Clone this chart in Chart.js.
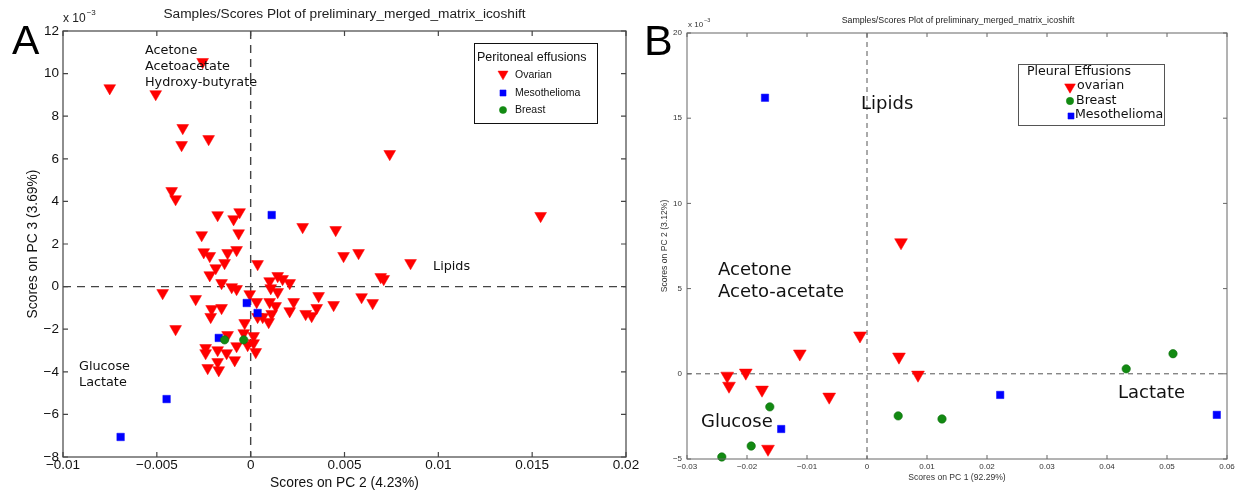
<!DOCTYPE html>
<html><head><meta charset="utf-8">
<script src="https://cdn.jsdelivr.net/npm/chart.js@4"></script>
<style>
html,body{margin:0;padding:0;background:#fff;}
#wrap{position:relative;width:1242px;height:494px;overflow:hidden;background:#fff;}
canvas{position:absolute;top:0;}
</style></head><body>
<div id="wrap">
<canvas id="cA" width="660" height="494" style="left:0"></canvas>
<canvas id="cB" width="602" height="494" style="left:640px"></canvas>
</div>
<script>
// ---------- Panel A: peritoneal effusions (x = PC2 score, y = PC3 score x10^-3) ----------
const ovarianA_x = [-0.00751,-0.00506,-0.00256,-0.00362,-0.00224,-0.00368,-0.00421,-0.00400,0.00741,0.01545,
  -0.00176,-0.00091,-0.00059,0.00277,0.00453,-0.00261,-0.00064,-0.00250,-0.00218,-0.00123,
  -0.00075,-0.00186,-0.00139,-0.00218,-0.00155,0.00037,-0.00101,-0.00075,-0.00005,0.00101,
  0.00144,0.00170,0.00208,0.00107,0.00144,0.00495,0.00575,-0.00469,-0.00293,0.00362,
  -0.00208,-0.00155,-0.00213,0.00032,0.00101,0.00133,0.00208,0.00229,0.00352,0.00442,
  0.00293,0.00325,0.00591,0.00650,0.00037,0.00064,0.00096,0.00112,-0.00032,-0.00037,
  -0.00123,0.00016,-0.00240,-0.00240,-0.00176,-0.00128,-0.00075,-0.00016,0.00016,0.00027,
  -0.00085,-0.00229,-0.00176,-0.00170,0.00693,0.00852,0.00709,-0.00400];
const ovarianA_y = [9.32,9.04,10.55,7.45,6.93,6.65,4.49,4.11,6.23,3.32,
  3.36,3.17,3.50,2.80,2.66,2.42,2.51,1.62,1.44,1.58,
  1.72,0.87,1.11,0.54,0.17,1.06,-0.02,-0.11,-0.35,0.26,
  0.50,0.36,0.17,-0.07,-0.25,1.44,1.58,-0.30,-0.58,-0.44,
  -1.05,-1.00,-1.42,-0.72,-0.72,-0.91,-1.15,-0.72,-1.00,-0.86,
  -1.28,-1.38,-0.49,-0.77,-1.42,-1.42,-1.66,-1.28,-1.71,-2.18,
  -2.27,-2.32,-2.88,-3.12,-2.98,-3.12,-2.79,-2.74,-2.65,-3.07,
  -3.45,-3.82,-3.54,-3.92,0.45,1.11,0.36,-1.99];
const mesoA_x = [0.00112,-0.00021,0.00037,-0.00170,-0.00448,-0.00693];
const mesoA_y = [3.36,-0.77,-1.24,-2.41,-5.28,-7.06];
const breastA_x = [-0.00139,-0.00037];
const breastA_y = [-2.50,-2.50];
const ticksA_x = [-0.01,-0.005,0,0.005,0.01,0.015,0.02];
const ticksA_y = [-8,-6,-4,-2,0,2,4,6,8,10,12];

// ---------- Panel B: pleural effusions (x = PC1 score, y = PC2 score x10^-3) ----------
const ovarianB_x = [0.00567,-0.00117,0.00533,0.00850,-0.01120,-0.02020,-0.02330,-0.02300,-0.01750,-0.00630,-0.01650];
const ovarianB_y = [7.71,2.24,1.00,-0.06,1.18,0.06,-0.12,-0.71,-0.94,-1.35,-4.41];
const breastB_x = [-0.01620,0.00520,0.01250,-0.01930,-0.02420,0.04320,0.05100];
const breastB_y = [-1.94,-2.47,-2.65,-4.24,-4.88,0.29,1.18];
const mesoB_x = [-0.01430,0.02220,0.05830,-0.01700];
const mesoB_y = [-3.24,-1.24,-2.41,16.2];
const ticksB_x = [-0.03,-0.02,-0.01,0,0.01,0.02,0.03,0.04,0.05,0.06];
const ticksB_y = [-5,0,5,10,15,20];

const RED = '#ff0000', BLUE = '#0000ff', GREEN = '#128a12';
const SANS = "'Liberation Sans', Arial, Helvetica, sans-serif";
const DJV = "'DejaVu Sans', Verdana, sans-serif";

function pts(xs, ys) { return xs.map((v, i) => ({x: v, y: ys[i]})); }
function fmt(v) { const r = Math.round(v * 1e6) / 1e6; return (r < 0 ? '\u2212' : '') + String(Math.abs(r)); }

function marker(ctx, style, x, y, r, color) {
  ctx.save(); ctx.fillStyle = color; ctx.strokeStyle = color; ctx.lineWidth = 0.5;
  ctx.beginPath();
  if (style === 'tri') {
    ctx.moveTo(x, y + r); ctx.lineTo(x - r * 0.866, y - r / 2); ctx.lineTo(x + r * 0.866, y - r / 2); ctx.closePath();
  } else if (style === 'rect') {
    const s = r * Math.SQRT1_2; ctx.rect(x - s, y - s, 2 * s, 2 * s);
  } else { ctx.arc(x, y, r, 0, Math.PI * 2); }
  ctx.fill(); ctx.stroke(); ctx.restore();
}
function txt(ctx, s, x, y, font, color, align) {
  ctx.save(); ctx.font = font; ctx.fillStyle = color; ctx.textAlign = align || 'left'; ctx.textBaseline = 'middle';
  ctx.fillText(s, x, y); ctx.restore();
}
function zeroLines(chart, dash, color, lw) {
  const {ctx, chartArea: a, scales: {x, y}} = chart;
  const px = x.getPixelForValue(0), py = y.getPixelForValue(0);
  ctx.save(); ctx.setLineDash(dash); ctx.strokeStyle = color; ctx.lineWidth = lw;
  ctx.beginPath(); ctx.moveTo(px, a.top); ctx.lineTo(px, a.bottom); ctx.stroke();
  ctx.beginPath(); ctx.moveTo(a.left, py); ctx.lineTo(a.right, py); ctx.stroke();
  ctx.restore();
}
function frame(chart, tl, color, lw) {
  const {ctx, chartArea: a, scales: {x, y}} = chart;
  ctx.save(); ctx.strokeStyle = color; ctx.lineWidth = lw;
  ctx.strokeRect(a.left, a.top, a.right - a.left, a.bottom - a.top);
  ctx.beginPath();
  x.ticks.forEach(t => { const p = x.getPixelForValue(t.value);
    ctx.moveTo(p, a.bottom); ctx.lineTo(p, a.bottom - tl); ctx.moveTo(p, a.top); ctx.lineTo(p, a.top + tl); });
  y.ticks.forEach(t => { const p = y.getPixelForValue(t.value);
    ctx.moveTo(a.left, p); ctx.lineTo(a.left + tl, p); ctx.moveTo(a.right, p); ctx.lineTo(a.right - tl, p); });
  ctx.stroke(); ctx.restore();
}
function superLabel(ctx, x, y, size, supSize, color) {
  ctx.save(); ctx.font = size + 'px ' + SANS; ctx.fillStyle = color; ctx.textBaseline = 'middle';
  ctx.fillText('x 10', x, y); const w = ctx.measureText('x 10').width;
  ctx.font = supSize + 'px ' + SANS; ctx.fillText('\u22123', x + w + 1, y - size * 0.55); ctx.restore();
}
function ticksFrom(arr) { return s => { s.ticks = arr.map(v => ({value: v})); }; }

function makeScales(o) {
  return {
    x: {type: 'linear', min: o.xt[0], max: o.xt[o.xt.length - 1],
      afterBuildTicks: ticksFrom(o.xt),
      ticks: {autoSkip: false, maxRotation: 0, minRotation: 0, padding: o.xpad, color: o.tc,
        font: {family: SANS, size: o.tf}, callback: v => fmt(v)},
      grid: {display: false, drawTicks: false}, border: {display: false},
      title: {display: true, text: o.xtitle, color: o.tc, font: {family: SANS, size: o.af}, padding: {top: 0, bottom: o.xtp}},
      afterFit: s => { s.height = o.xh; s.paddingLeft = 0; s.paddingRight = 0; }},
    y: {type: 'linear', min: o.yt[0], max: o.yt[o.yt.length - 1],
      afterBuildTicks: ticksFrom(o.yt),
      ticks: {autoSkip: false, padding: o.ypad, color: o.tc, font: {family: SANS, size: o.tf}, callback: v => fmt(v)},
      grid: {display: false, drawTicks: false}, border: {display: false},
      title: {display: true, text: o.ytitle, color: o.tc, font: {family: SANS, size: o.af}, padding: {top: o.ytp, bottom: 0}},
      afterFit: s => { s.width = o.yw; s.paddingTop = 0; s.paddingBottom = 0; }}
  };
}

// ---------------- Chart A ----------------
const plugA = {
  id: 'decoA',
  beforeDatasetsDraw(chart) { zeroLines(chart, [8, 6], '#444', 1.4); },
  afterDraw(chart) {
    const ctx = chart.ctx;
    frame(chart, 5, '#444', 1.2);
    txt(ctx, 'Samples/Scores Plot of preliminary_merged_matrix_icoshift', 344.5, 14.5, '13.7px ' + SANS, '#222', 'center');
    superLabel(ctx, 63, 19, 12, 8, '#222');
    ctx.save(); ctx.font = '41px ' + SANS; ctx.fillStyle = '#000'; ctx.textBaseline = 'alphabetic'; ctx.fillText('A', 12, 54); ctx.restore();
    const f = '12.8px ' + DJV;
    txt(ctx, 'Acetone', 145, 51, f, '#111');
    txt(ctx, 'Acetoacetate', 145, 67, f, '#111');
    txt(ctx, 'Hydroxy-butyrate', 145, 83, f, '#111');
    txt(ctx, 'Lipids', 433, 267, f, '#111');
    txt(ctx, 'Glucose', 79, 367, f, '#111');
    txt(ctx, 'Lactate', 79, 383, f, '#111');
    // legend
    ctx.save(); ctx.fillStyle = '#fff'; ctx.fillRect(474, 43, 123, 80);
    ctx.strokeStyle = '#111'; ctx.lineWidth = 1; ctx.strokeRect(474.5, 43.5, 123, 80); ctx.restore();
    txt(ctx, 'Peritoneal effusions', 477, 58, '12.5px ' + SANS, '#111');
    marker(ctx, 'tri', 503, 74, 5.8, RED);
    marker(ctx, 'rect', 503, 93, 4.3, BLUE);
    marker(ctx, 'circle', 503, 110, 3.6, GREEN);
    const lf = '10.5px ' + SANS;
    txt(ctx, 'Ovarian', 515, 75, lf, '#111');
    txt(ctx, 'Mesothelioma', 515, 93, lf, '#111');
    txt(ctx, 'Breast', 515, 110, lf, '#111');
  }
};
new Chart(document.getElementById('cA'), {
  type: 'scatter',
  data: {datasets: [
    {label: 'Breast', data: pts(breastA_x, breastA_y), pointStyle: 'circle', pointRadius: 4.2, backgroundColor: GREEN, borderColor: '#0d6e0d', borderWidth: 0.6, clip: false},
    {label: 'Mesothelioma', data: pts(mesoA_x, mesoA_y), pointStyle: 'rect', pointRadius: 5.3, backgroundColor: BLUE, borderColor: BLUE, borderWidth: 0.5, clip: false},
    {label: 'Ovarian', data: pts(ovarianA_x, ovarianA_y), pointStyle: 'triangle', rotation: 180, pointRadius: 6.8, backgroundColor: RED, borderColor: RED, borderWidth: 0.5, clip: false}
  ]},
  options: {
    responsive: false, animation: false, events: [],
    layout: {padding: {left: 0, top: 31, right: 34, bottom: 0}},
    plugins: {legend: {display: false}, tooltip: {enabled: false}, title: {display: false}},
    scales: makeScales({xt: ticksA_x, yt: ticksA_y, xpad: 0, ypad: 4, tc: '#111', tf: 13.5, af: 13.8,
      xtitle: 'Scores on PC 2 (4.23%)', ytitle: 'Scores on PC 3 (3.69%)', xtp: 3, ytp: 24.7, xh: 37, yw: 63})
  },
  plugins: [plugA]
});

// ---------------- Chart B ----------------
const plugB = {
  id: 'decoB',
  beforeDatasetsDraw(chart) { zeroLines(chart, [5, 4], '#555', 1); },
  afterDraw(chart) {
    const ctx = chart.ctx;
    frame(chart, 4, '#666', 1);
    txt(ctx, 'Samples/Scores Plot of preliminary_merged_matrix_icoshift', 318, 21, '8.8px ' + SANS, '#222', 'center');
    superLabel(ctx, 48, 25, 8, 5.5, '#333');
    ctx.save(); ctx.font = '43px ' + SANS; ctx.fillStyle = '#000'; ctx.textBaseline = 'alphabetic'; ctx.fillText('B', 4, 55); ctx.restore();
    const f = '18px ' + DJV;
    txt(ctx, 'Lipids', 221, 104, f, '#111');
    txt(ctx, 'Acetone', 78, 270, f, '#111');
    txt(ctx, 'Aceto-acetate', 78, 292, f, '#111');
    txt(ctx, 'Glucose', 61, 422, f, '#111');
    txt(ctx, 'Lactate', 478, 393, f, '#111');
    // legend
    ctx.save(); ctx.fillStyle = '#fff'; ctx.fillRect(378, 64, 146, 61);
    ctx.strokeStyle = '#555'; ctx.lineWidth = 1; ctx.strokeRect(378.5, 64.5, 146, 61); ctx.restore();
    const lf = '12.6px ' + DJV;
    txt(ctx, 'Pleural Effusions', 387, 72, lf, '#111');
    marker(ctx, 'tri', 430, 87, 6.2, RED);
    marker(ctx, 'circle', 430, 101, 3.7, GREEN);
    marker(ctx, 'rect', 431, 116, 4.3, BLUE);
    txt(ctx, 'ovarian', 437, 86, lf, '#111');
    txt(ctx, 'Breast', 436, 101, lf, '#111');
    txt(ctx, 'Mesothelioma', 435, 115, lf, '#111');
  }
};
new Chart(document.getElementById('cB'), {
  type: 'scatter',
  data: {datasets: [
    {label: 'Breast', data: pts(breastB_x, breastB_y), pointStyle: 'circle', pointRadius: 4.2, backgroundColor: GREEN, borderColor: '#0d6e0d', borderWidth: 0.6, clip: false},
    {label: 'Mesothelioma', data: pts(mesoB_x, mesoB_y), pointStyle: 'rect', pointRadius: 5.2, backgroundColor: BLUE, borderColor: BLUE, borderWidth: 0.5, clip: false},
    {label: 'ovarian', data: pts(ovarianB_x, ovarianB_y), pointStyle: 'triangle', rotation: 180, pointRadius: 7.4, backgroundColor: RED, borderColor: RED, borderWidth: 0.5, clip: false}
  ]},
  options: {
    responsive: false, animation: false, events: [],
    layout: {padding: {left: 0, top: 33, right: 15, bottom: 0}},
    plugins: {legend: {display: false}, tooltip: {enabled: false}, title: {display: false}},
    scales: makeScales({xt: ticksB_x, yt: ticksB_y, xpad: 3, ypad: 5, tc: '#333', tf: 8, af: 8.6,
      xtitle: 'Scores on PC 1 (92.29%)', ytitle: 'Scores on PC 2 (3.12%)', xtp: 10.8, ytp: 19.8, xh: 35, yw: 47})
  },
  plugins: [plugB]
});
</script>
</body></html>
